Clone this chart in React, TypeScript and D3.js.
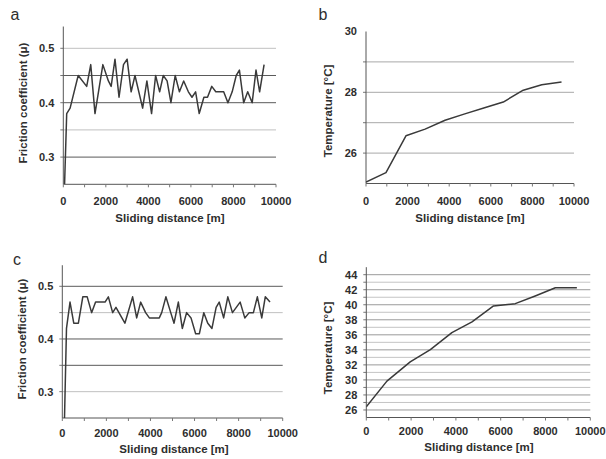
import React from 'react';
import * as d3 from 'd3';

// ---------- data ----------
const xTickValues = [0, 2000, 4000, 6000, 8000, 10000];
const xMinorTickValues = [0, 1000, 2000, 3000, 4000, 5000, 6000, 7000, 8000, 9000, 10000];

const frictionGridValues = [0.3, 0.35, 0.4, 0.45, 0.5];
const frictionTickValues = [0.3, 0.4, 0.5];
const tempBGridValues = [26, 27, 28, 29];
const tempBTickValues = [26, 28, 30];
const tempDGridValues = [26, 27, 28, 29, 30, 31, 32, 33, 34, 35, 36, 37, 38, 39, 40, 41, 42, 43, 44];
const tempDTickValues = [26, 28, 30, 32, 34, 36, 38, 40, 42, 44];

const distA = [60, 160, 320, 700, 1100, 1290, 1490, 1860, 2120, 2250, 2430, 2620, 2830, 3000, 3190, 3370, 3730, 3930, 4150, 4340, 4530, 4700, 4880, 5060, 5260, 5460, 5660, 5880, 6050, 6220, 6390, 6610, 6780, 6980, 7170, 7540, 7740, 7940, 8130, 8280, 8480, 8670, 8880, 9060, 9230, 9440];
const muA = [0.25, 0.38, 0.39, 0.45, 0.43, 0.47, 0.38, 0.47, 0.44, 0.43, 0.48, 0.41, 0.47, 0.48, 0.42, 0.45, 0.39, 0.44, 0.38, 0.45, 0.42, 0.45, 0.44, 0.40, 0.45, 0.42, 0.44, 0.42, 0.41, 0.42, 0.38, 0.41, 0.41, 0.43, 0.42, 0.42, 0.40, 0.42, 0.45, 0.46, 0.40, 0.42, 0.40, 0.46, 0.42, 0.47];

const distB = [0, 960, 1920, 2840, 3800, 4750, 5700, 6600, 7560, 8450, 9400];
const tempB = [25.05, 25.36, 26.57, 26.79, 27.08, 27.29, 27.49, 27.68, 28.07, 28.25, 28.34];

const distC = [100, 190, 350, 520, 730, 930, 1130, 1330, 1510, 1940, 2090, 2285, 2435, 2840, 3190, 3375, 3555, 3780, 3950, 4400, 4510, 4700, 4920, 5070, 5265, 5445, 5640, 5840, 6050, 6220, 6420, 6600, 6790, 6980, 7120, 7320, 7510, 7720, 8070, 8280, 8480, 8670, 8850, 9050, 9210, 9424];
const muC = [0.25, 0.42, 0.47, 0.43, 0.43, 0.48, 0.48, 0.45, 0.47, 0.47, 0.48, 0.45, 0.46, 0.43, 0.48, 0.44, 0.47, 0.45, 0.44, 0.44, 0.45, 0.48, 0.45, 0.43, 0.47, 0.42, 0.45, 0.44, 0.41, 0.41, 0.45, 0.43, 0.42, 0.46, 0.47, 0.44, 0.48, 0.45, 0.47, 0.44, 0.45, 0.45, 0.48, 0.44, 0.48, 0.47];

const distD = [0, 920, 1960, 2860, 3820, 4720, 5680, 6650, 7540, 8440, 9400];
const tempD = [26.43, 29.84, 32.41, 34.04, 36.3, 37.72, 39.84, 40.15, 41.17, 42.27, 42.27];

// ---------- styles ----------
const FONT = '"Liberation Sans", Arial, Helvetica, sans-serif';
const TEXT = '#2e2e2e';
const DARK = '#5a5a5a';
const LIGHT = '#c0c0c0';

type PanelProps = {
  letter: string;
  letterPos: [number, number];
  xRange: [number, number];
  yDomain: [number, number];
  yRange: [number, number];
  axisTop: number;
  gridValues: number[];
  gridColors: string[];
  yTickValues: number[];
  yFmt: (v: number) => string;
  yTitle: string;
  yTitlePos: [number, number];
  xTitlePos: [number, number];
  xLabelY: number;
  xs: number[];
  ys: number[];
  id: string;
};

function Panel(p: PanelProps) {
  const x = d3.scaleLinear().domain([0, 10000]).range(p.xRange);
  const y = d3.scaleLinear().domain(p.yDomain).range(p.yRange);
  const pts = p.xs.map((d, i) => [d, p.ys[i]] as [number, number]);
  const line = d3.line<[number, number]>().x(d => x(d[0])).y(d => y(d[1]));
  const x0 = p.xRange[0];
  const x1 = p.xRange[1];
  const yb = y(p.yDomain[0]);
  const yt = y(p.axisTop);
  return (
    <g>
      <defs>
        <clipPath id={p.id}>
          <rect x={x0} y={yt} width={x1 - x0} height={yb - yt} />
        </clipPath>
      </defs>
      {p.gridValues.map((v, i) => (
        <line key={'g' + v} x1={x0} x2={x1} y1={y(v)} y2={y(v)} stroke={p.gridColors[i % p.gridColors.length]} strokeWidth={1} />
      ))}
      {p.gridValues.map(v => (
        <line key={'yt' + v} x1={x0 - 3} x2={x0} y1={y(v)} y2={y(v)} stroke="#777" strokeWidth={1} />
      ))}
      <line x1={x0} x2={x0} y1={yb} y2={yt} stroke="#555" strokeWidth={1} />
      <line x1={x0} x2={x1} y1={yb} y2={yb} stroke="#555" strokeWidth={1} />
      {xMinorTickValues.map(v => (
        <line key={'xt' + v} x1={x(v)} x2={x(v)} y1={yb} y2={yb + 3} stroke="#777" strokeWidth={1} />
      ))}
      <path d={line(pts) || ''} fill="none" stroke="#3a3a3a" strokeWidth={1.5} clipPath={`url(#${p.id})`} strokeLinejoin="round" />
      {p.yTickValues.map(v => (
        <text key={'yl' + v} x={x0 - 9} y={y(v)} dy="0.36em" textAnchor="end" fontFamily={FONT} fontWeight="bold" fontSize={11} fill={TEXT}>
          {p.yFmt(v)}
        </text>
      ))}
      {xTickValues.map(v => (
        <text key={'xl' + v} x={x(v)} y={p.xLabelY} textAnchor="middle" fontFamily={FONT} fontWeight="bold" fontSize={11} fill={TEXT}>
          {v}
        </text>
      ))}
      <text x={p.xTitlePos[0]} y={p.xTitlePos[1]} textAnchor="middle" fontFamily={FONT} fontWeight="bold" fontSize={11.5} fill={TEXT}>
        Sliding distance [m]
      </text>
      <text
        transform={`translate(${p.yTitlePos[0]},${p.yTitlePos[1]}) rotate(-90)`}
        textAnchor="middle"
        dy="0.36em"
        fontFamily={FONT}
        fontWeight="bold"
        fontSize={11.5}
        fill={TEXT}
      >
        {p.yTitle}
      </text>
      <text x={p.letterPos[0]} y={p.letterPos[1]} textAnchor="middle" fontFamily={FONT} fontSize={16} fill={TEXT}>
        {p.letter}
      </text>
    </g>
  );
}

export default function App() {
  const fmt1 = d3.format('.1f');
  const fmt0 = d3.format('d');
  return (
    <svg width={606} height={459} style={{ position: 'absolute', left: 0, top: 0, background: '#fff' }}>
      <rect width={606} height={459} fill="#fff" />
      <Panel
        id="clipA"
        letter="a"
        letterPos={[15, 20]}
        xRange={[63.3, 276]}
        yDomain={[0.25, 0.5]}
        yRange={[184.3, 48.3]}
        axisTop={0.54}
        gridValues={frictionGridValues}
        gridColors={[DARK, LIGHT, DARK, DARK, LIGHT]}
        yTickValues={frictionTickValues}
        yFmt={fmt1}
        yTitle="Friction coefficient (μ)"
        yTitlePos={[23, 103]}
        xTitlePos={[170, 222]}
        xLabelY={205}
        xs={distA}
        ys={muA}
      />
      <Panel
        id="clipB"
        letter="b"
        letterPos={[323, 20]}
        xRange={[366, 574]}
        yDomain={[25, 30]}
        yRange={[183.5, 31.5]}
        axisTop={30}
        gridValues={tempBGridValues}
        gridColors={['#a8a8a8']}
        yTickValues={tempBTickValues}
        yFmt={fmt0}
        yTitle="Temperature [°C]"
        yTitlePos={[328, 111]}
        xTitlePos={[470, 222]}
        xLabelY={205}
        xs={distB}
        ys={tempB}
      />
      <Panel
        id="clipC"
        letter="c"
        letterPos={[17, 265]}
        xRange={[62.3, 282.7]}
        yDomain={[0.25, 0.5]}
        yRange={[418, 286.3]}
        axisTop={0.54}
        gridValues={frictionGridValues}
        gridColors={[LIGHT, DARK, DARK, LIGHT, DARK]}
        yTickValues={frictionTickValues}
        yFmt={fmt1}
        yTitle="Friction coefficient (μ)"
        yTitlePos={[22, 339]}
        xTitlePos={[174, 453]}
        xLabelY={437}
        xs={distC}
        ys={muC}
      />
      <Panel
        id="clipD"
        letter="d"
        letterPos={[323, 263]}
        xRange={[366.3, 590.3]}
        yDomain={[25, 44]}
        yRange={[417.5, 274.7]}
        axisTop={45}
        gridValues={tempDGridValues}
        gridColors={['#9a9a9a', '#c4c4c4']}
        yTickValues={tempDTickValues}
        yFmt={fmt0}
        yTitle="Temperature [°C]"
        yTitlePos={[328, 348]}
        xTitlePos={[479, 451]}
        xLabelY={435}
        xs={distD}
        ys={tempD}
      />
    </svg>
  );
}
